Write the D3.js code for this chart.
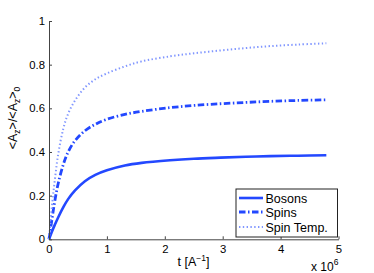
<!DOCTYPE html>
<html><head><meta charset="utf-8">
<script src="https://cdn.jsdelivr.net/npm/d3@7"></script>
<style>
body{margin:0;background:#fff;}
svg text{font-family:"Liberation Sans",Arial,Helvetica,sans-serif;fill:#000;}
</style></head>
<body><svg id="c" width="374" height="273"></svg>
<script>
const t = [0, 0.05, 0.1, 0.16, 0.25, 0.33, 0.45, 0.62, 0.8, 1.0, 1.31, 1.6, 2.09, 2.5, 2.96, 3.4, 3.82, 4.3, 4.79];
const bosons = [0, 0.035, 0.066, 0.101, 0.148, 0.184, 0.224, 0.266, 0.295, 0.316, 0.338, 0.350, 0.362, 0.369, 0.374, 0.378, 0.381, 0.383, 0.385];
const spins = [0, 0.09, 0.175, 0.257, 0.345, 0.40, 0.452, 0.497, 0.527, 0.55, 0.572, 0.586, 0.603, 0.613, 0.621, 0.627, 0.632, 0.636, 0.639];
const spinTemp = [0, 0.15, 0.27, 0.392, 0.51, 0.575, 0.636, 0.695, 0.733, 0.76, 0.792, 0.815, 0.838, 0.852, 0.865, 0.876, 0.885, 0.892, 0.898];
const seriesNames = ["Bosons", "Spins", "Spin Temp."];
const xTicks = [0, 1, 2, 3, 4, 5];
const yTicks = [0, 0.2, 0.4, 0.6, 0.8, 1];

const svg = d3.select("#c");
const x = d3.scaleLinear().domain([0, 5]).range([49, 338.5]);
const y = d3.scaleLinear().domain([0, 1]).range([239.3, 21]);

const styles = [
  {color:"#2348ff", width:2.6, dash:null},
  {color:"#2348ff", width:2.8, dash:"6.5,2.5,1.5,2.5"},
  {color:"#8096ff", width:2, dash:"1.4,2.4"}
];
const data = [bosons, spins, spinTemp];

const line = d3.line().x(d => x(d[0])).y(d => y(d[1])).curve(d3.curveCatmullRom.alpha(0.5));
data.forEach((vals, i) => {
  const s = styles[i];
  svg.append("path")
    .datum(t.map((tv, j) => [tv, vals[j]]))
    .attr("d", line)
    .attr("fill", "none")
    .attr("stroke", s.color)
    .attr("stroke-width", s.width)
    .attr("stroke-dasharray", s.dash);
});

// axes
const xAxis = svg.append("g").attr("transform", `translate(0,${y(0)})`)
  .call(d3.axisBottom(x).tickValues(xTicks).tickFormat(d3.format("d")).tickSizeInner(-3).tickSizeOuter(0).tickPadding(6));
const yAxis = svg.append("g").attr("transform", `translate(${x(0)},0)`)
  .call(d3.axisLeft(y).tickValues(yTicks).tickFormat(d => d === 0 || d === 1 ? String(d) : d.toFixed(1)).tickSizeInner(-3).tickSizeOuter(0).tickPadding(4));
[xAxis, yAxis].forEach(g => {
  g.selectAll("path,line").attr("stroke", "#444").attr("stroke-width", 1);
  g.selectAll("text").attr("font-size", 11.3).attr("font-family", "Liberation Sans, Arial, sans-serif").attr("fill", "#000");
});

// x label
const xl = svg.append("text").attr("x", 193.5).attr("y", 266).attr("text-anchor", "middle").attr("font-size", 12.5);
xl.append("tspan").text("t [A");
xl.append("tspan").attr("font-size", 8.5).attr("dy", -5).text("\u22121");
xl.append("tspan").attr("dy", 5).text("]");

// y label
const yl = svg.append("text").attr("transform", "translate(17,118) rotate(-90)").attr("text-anchor", "middle").attr("font-size", 12.5);
yl.append("tspan").text("<A");
yl.append("tspan").attr("font-size", 8.5).attr("dy", 3).text("z");
yl.append("tspan").attr("dy", -3).text(">/<A");
yl.append("tspan").attr("font-size", 8.5).attr("dy", 3).text("z");
yl.append("tspan").attr("dy", -3).text(">");
yl.append("tspan").attr("font-size", 8.5).attr("dy", 3).text("0");

// multiplier
const mult = svg.append("text").attr("x", 311).attr("y", 270.7).attr("font-size", 12);
mult.append("tspan").text("x 10");
mult.append("tspan").attr("font-size", 8.5).attr("dy", -6).text("6");

// legend
const lg = svg.append("g");
lg.append("rect").attr("x", 236).attr("y", 189).attr("width", 101.5).attr("height", 48)
  .attr("fill", "#fff").attr("stroke", "#222").attr("stroke-width", 1);
const rowY = [198, 212, 227];
seriesNames.forEach((n, i) => {
  const s = styles[i];
  lg.append("line").attr("x1", 239).attr("x2", 263).attr("y1", rowY[i]).attr("y2", rowY[i])
    .attr("stroke", s.color).attr("stroke-width", s.width).attr("stroke-dasharray", s.dash);
  lg.append("text").attr("x", 265.5).attr("y", rowY[i]).attr("dy", "0.36em").attr("font-size", 12.5).text(n);
});
</script></body></html>
